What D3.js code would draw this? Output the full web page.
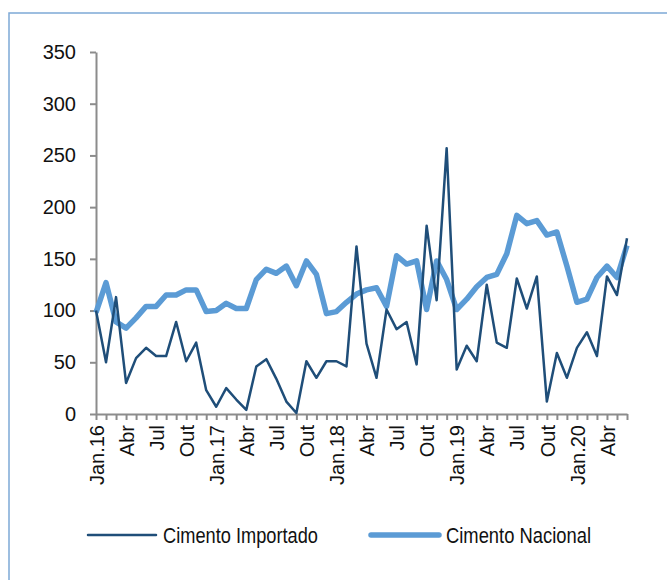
<!DOCTYPE html>
<html>
<head>
<meta charset="utf-8">
<script src="https://cdn.jsdelivr.net/npm/d3@7/dist/d3.min.js"></script>
<style>
  body { margin: 0; background: #fff; }
  svg text { font-family: "Liberation Sans Narrow", "Arial Narrow", "Liberation Sans", sans-serif; fill: #111; }
</style>
</head>
<body>
<svg id="chart" width="667" height="580"></svg>
<script>
// months Jan.16 .. Jun.20
var monthNames = ['Jan', 'Fev', 'Mar', 'Abr', 'Mai', 'Jun', 'Jul', 'Ago', 'Set', 'Out', 'Nov', 'Dez'];
var years = ['16', '17', '18', '19', '20'];
var months = [];
years.forEach(function (yr) {
    monthNames.forEach(function (m) { months.push(m + '.' + yr); });
});
months = months.slice(0, 54);

var importado = [100, 50, 113, 30, 54, 64, 56, 56, 89, 51, 69, 23,
    7, 25, 14, 4, 46, 53, 34, 12, 1, 51, 35, 51,
    51, 46, 162, 68, 35, 101, 82, 89, 48, 182, 110, 257,
    43, 66, 51, 125, 69, 64, 131, 102, 133, 12, 59, 35,
    64, 79, 56, 133, 115, 170];

var nacional = [98, 127, 89, 83, 93, 104, 104, 115, 115, 120, 120, 99,
    100, 107, 102, 102, 130, 140, 136, 143, 124, 148, 135, 97,
    99, 108, 116, 120, 122, 104, 153, 145, 148, 101, 148, 130,
    101, 111, 123, 132, 135, 155, 192, 184, 187, 173, 176, 143,
    108, 111, 132, 143, 132, 163];

var yTicks = [0, 50, 100, 150, 200, 250, 300, 350];

var svg = d3.select('#chart');

// outer frame
svg.append('rect')
    .attr('x', 9).attr('y', 13)
    .attr('width', 700).attr('height', 600)
    .attr('fill', 'none')
    .attr('stroke', '#7ea9d6')
    .attr('stroke-width', 1.5);

var x = d3.scalePoint().domain(months).range([96, 627]);
var y = d3.scaleLinear().domain([0, 350]).range([414, 52]);

// y axis
var yAxis = svg.append('g')
    .attr('transform', 'translate(96,0)')
    .call(d3.axisLeft(y).tickValues(yTicks).tickSize(6).tickPadding(14).tickSizeOuter(0));
yAxis.selectAll('text').style('font-size', '20px');

// x axis: tick every month, label every 3rd
var xAxis = svg.append('g')
    .attr('transform', 'translate(0,414)')
    .call(d3.axisBottom(x).tickSize(6).tickSizeOuter(0)
        .tickFormat(function (d, i) {
            if (i % 3 !== 0) return '';
            return i % 12 === 0 ? d : d.split('.')[0];
        }));
xAxis.selectAll('text')
    .style('font-size', '20px')
    .attr('text-anchor', 'end')
    .attr('transform', 'rotate(-90)')
    .attr('x', -11)
    .attr('y', 0)
    .attr('dy', '0.36em');

svg.selectAll('.domain, .tick line')
    .attr('stroke', '#8c8c8c')
    .attr('stroke-width', 2);

var line = d3.line()
    .x(function (d, i) { return x(months[i]); })
    .y(function (d) { return y(d); });

svg.append('path')
    .datum(nacional)
    .attr('d', line)
    .attr('fill', 'none')
    .attr('stroke', '#5b9bd5')
    .attr('stroke-width', 5.5)
    .attr('stroke-linejoin', 'round');

svg.append('path')
    .datum(importado)
    .attr('d', line)
    .attr('fill', 'none')
    .attr('stroke', '#1f4e79')
    .attr('stroke-width', 2.5)
    .attr('stroke-linejoin', 'round');

// legend (text squeezed to the narrow face of the original)
var legend = [
    { name: 'Cimento Importado', color: '#1f4e79', w: 2.5, x: 88, len: 155 },
    { name: 'Cimento Nacional', color: '#5b9bd5', w: 5.5, x: 371, len: 145 }
];
var lg = svg.selectAll('.leg').data(legend).enter().append('g')
    .attr('transform', function (d) { return 'translate(' + d.x + ',535)'; });
lg.append('line')
    .attr('x1', 0).attr('x2', 68)
    .attr('stroke', function (d) { return d.color; })
    .attr('stroke-width', function (d) { return d.w; })
    .attr('stroke-linecap', 'round');
lg.append('text')
    .attr('x', 75).attr('y', 8)
    .style('font-size', '22px')
    .attr('textLength', function (d) { return d.len; })
    .attr('lengthAdjust', 'spacingAndGlyphs')
    .text(function (d) { return d.name; });
</script>
</body>
</html>
